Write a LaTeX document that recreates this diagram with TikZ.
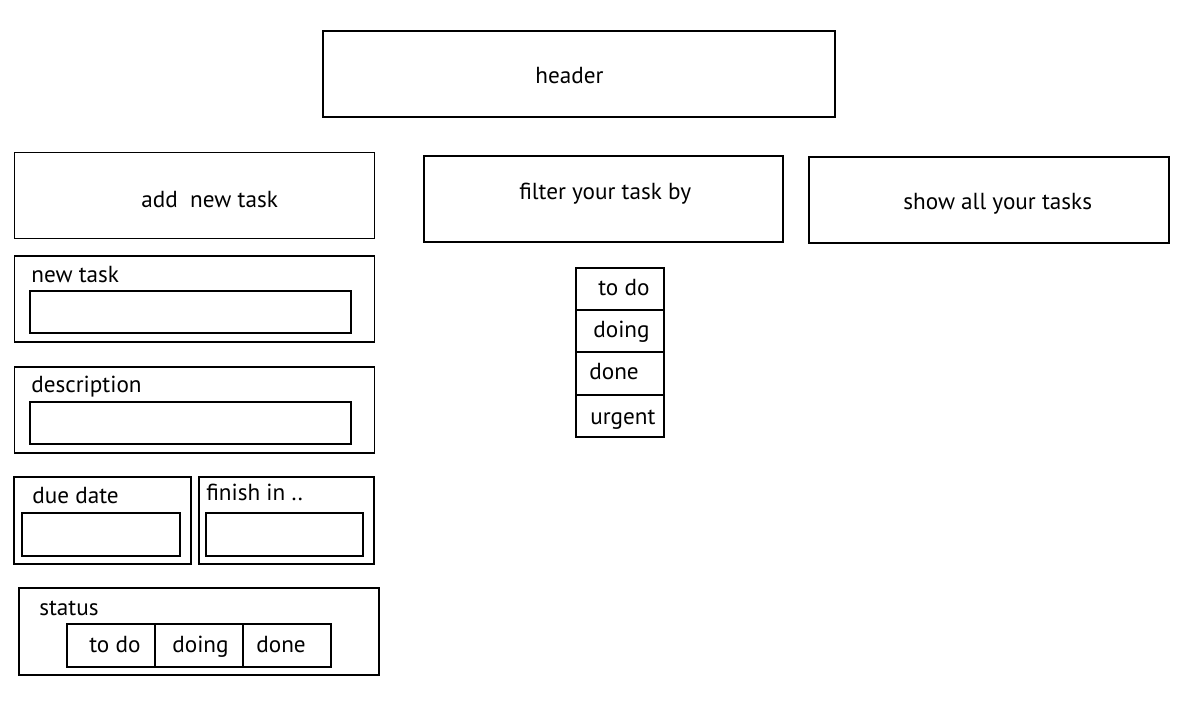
\documentclass[tikz,border=0pt]{standalone}
\usepackage{fontspec}
\setmainfont{PT Sans}
\usetikzlibrary{positioning}

\begin{document}
\begin{tikzpicture}[
    x=0.02cm, y=-0.02cm,
    frame/.style={draw, line width=1.1pt, inner sep=0pt},
    field/.style={draw, line width=1.1pt, inner sep=0pt},
    txt/.style={anchor=base west, inner sep=0pt, font=\fontsize{13.2}{15}\selectfont}
]
\useasboundingbox (0,0) rectangle (1179,716);

% Header
\node[frame, minimum width=512*0.02cm, minimum height=86*0.02cm] (header) at (579,74) {};
\node[txt] (headertxt) at (535,84) {header};

% Add new task (left column)
\node[frame, minimum width=360*0.02cm, minimum height=86*0.02cm] (add) at (194.5,195.5) {};
\node[txt] (addtxt) at (141,208) {add\ \ new task};

\node[frame, minimum width=360*0.02cm, minimum height=86*0.02cm] (newtask) at (194.5,299) {};
\node[txt] (newtasktxt) at (31,282) {new task};
\node[field, minimum width=321*0.02cm, minimum height=42*0.02cm] (newtaskin) at (190.5,312) {};

\node[frame, minimum width=360*0.02cm, minimum height=86*0.02cm] (desc) at (194.5,410) {};
\node[txt] (desctxt) at (31,392) {description};
\node[field, minimum width=321*0.02cm, minimum height=42*0.02cm] (descin) at (190.5,423) {};

\node[frame, minimum width=177*0.02cm, minimum height=87*0.02cm] (due) at (102.5,520.5) {};
\node[txt] (duetxt) at (32,503) {due date};
\node[field, minimum width=158*0.02cm, minimum height=43*0.02cm] (duein) at (101,534.5) {};

\node[frame, minimum width=175*0.02cm, minimum height=87*0.02cm] (finish) at (286.5,520.5) {};
\node[txt] (finishtxt) at (206,500) {finish in ..};
\node[field, minimum width=157*0.02cm, minimum height=43*0.02cm] (finishin) at (284.5,534.5) {};

\node[frame, minimum width=360*0.02cm, minimum height=87*0.02cm] (status) at (199,631.5) {};
\node[txt] (statustxt) at (39,615) {status};
\foreach \name/\cx/\tx/\lbl in {todo/111/89/to do, doing/199/172/doing, done/287/256/done}{
    \node[field, minimum width=88*0.02cm, minimum height=43*0.02cm] (st\name) at (\cx,645.5) {};
    \node[txt] (st\name txt) at (\tx,652) {\lbl};
}

% Filter (middle column)
\node[frame, minimum width=359*0.02cm, minimum height=86*0.02cm] (filter) at (603.5,199) {};
\node[txt] (filtertxt) at (519,199) {filter your task by};
\foreach \name/\cy/\tx/\ty/\lbl in {todo/289/598/295/to do, doing/331/593/337/doing, done/373.5/589/379/done, urgent/416/590/424/urgent}{
    \node[field, minimum width=88*0.02cm, minimum height=42*0.02cm] (f\name) at (620,\cy) {};
    \node[txt] (f\name txt) at (\tx,\ty) {\lbl};
}

% Show all (right column)
\node[frame, minimum width=360*0.02cm, minimum height=86*0.02cm] (show) at (989,200) {};
\node[txt] (showtxt) at (903,210) {show all your tasks};
\end{tikzpicture}
\end{document}
